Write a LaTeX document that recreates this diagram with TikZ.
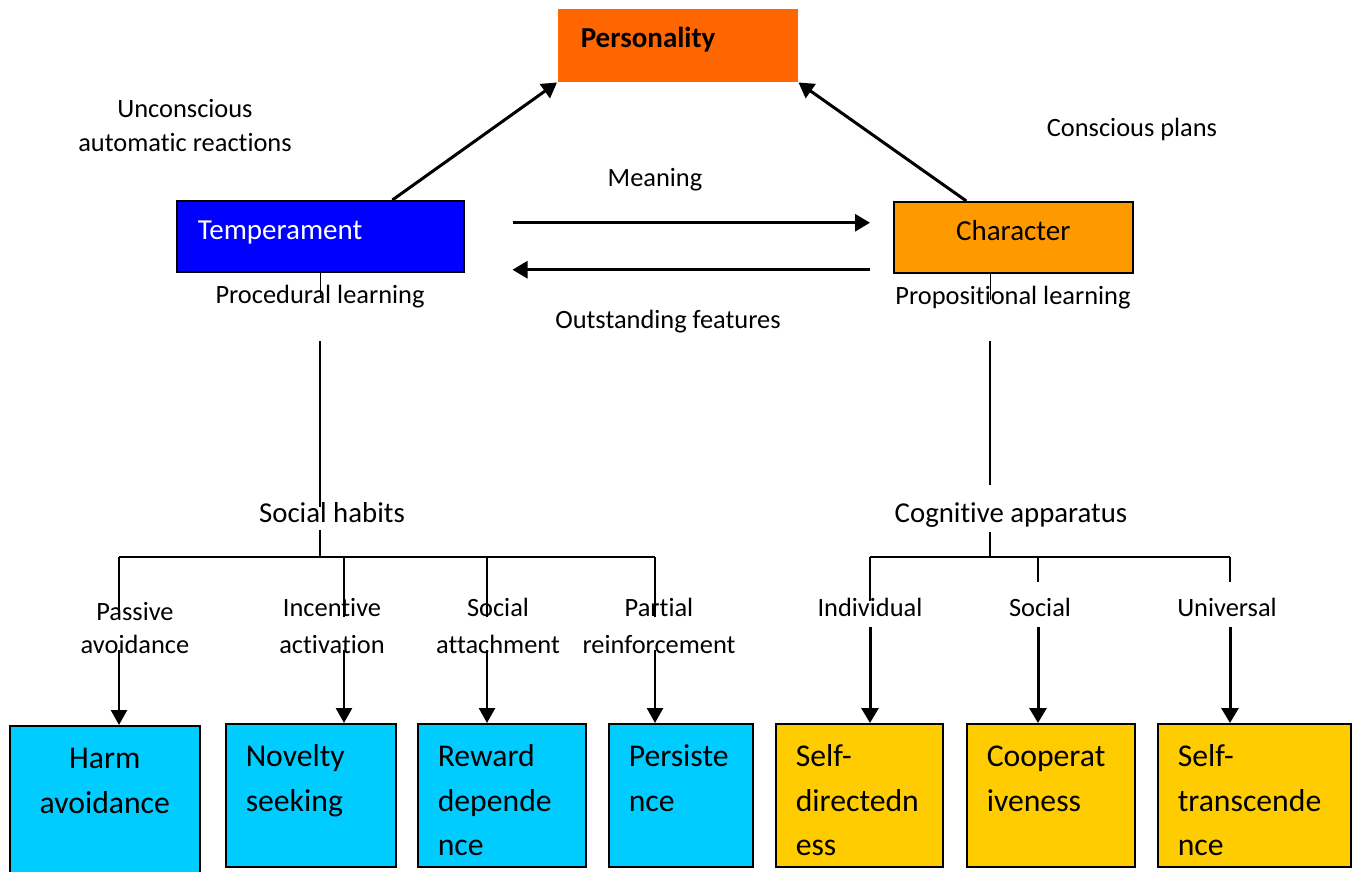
\documentclass[tikz,border=0pt]{standalone}
\usepackage{fontspec}
\setmainfont[Ligatures=NoCommon]{Carlito}
\usetikzlibrary{arrows.meta,calc}
\definecolor{persOrange}{HTML}{FF6600}
\definecolor{tempBlue}{HTML}{0000FF}
\definecolor{charOrange}{HTML}{FF9900}
\definecolor{traitCyan}{HTML}{00CCFF}
\definecolor{traitGold}{HTML}{FFCC00}
\newcommand{\lblfont}{\fontsize{26.4}{35}\selectfont}
\newcommand{\midfont}{\fontsize{28.8}{35}\selectfont}
\newcommand{\boxfont}{\fontsize{29}{35}\selectfont}
\newcommand{\traitfont}{\fontsize{31.7}{44.5}\selectfont}

\begin{document}
\begin{tikzpicture}[x=1pt, y=-1pt,
      every node/.style={font=\lblfont, inner sep=0pt},
      mainbox/.style={draw=black, line width=1.5pt, anchor=north west, minimum height=71pt, text height=21pt, text depth=14pt, font=\boxfont},
      trait/.style={draw=black, line width=1.5pt, anchor=north west, inner xsep=20pt, inner ysep=12pt, align=left, text height=31pt, text depth=88pt, font=\traitfont},
      link/.style={line width=1.5pt},
      bigarrow/.style={line width=3pt, -{Triangle[length=15pt,width=17pt]}},
      droparrow/.style={line width=2.5pt, -{Triangle[length=15pt,width=16pt]}}]
      \useasboundingbox (0,0) rectangle (1355,872);

      % Top triangle
      \node[mainbox, draw=none, fill=persOrange, minimum height=73pt, text height=20pt, text depth=15pt, inner xsep=23pt, text width=194pt, align=left, font=\boxfont\bfseries] (pers) at (557,8) {Personality};
      \node[mainbox, fill=tempBlue, text=white, inner xsep=21pt, text width=245pt, align=left] (temp) at (176,200) {Temperament};
      \node[mainbox, fill=charOrange, minimum width=239pt] (char) at (893,201) {Character};

      \draw[bigarrow] ($(temp.north west)!0.75!(temp.north east)$) -- (pers.south west);
      \draw[bigarrow] ($(char.north west)!0.305!(char.north east)$) -- (pers.south east);
      \draw[bigarrow] ([xshift=48pt,yshift=13.5pt]temp.east) -- ([xshift=-23pt,yshift=14.5pt]char.west);
      \draw[bigarrow] ([xshift=-23pt,yshift=-32.5pt]char.west) -- ([xshift=48pt,yshift=-33.5pt]temp.east);

      % two-line labels sit on the baseline of their last line
      \node[anchor=base, align=center] (unconsc) at (185,152) {Unconscious\\[-1pt]automatic reactions};
      \node[anchor=base] (consc) at (1132,137) {Conscious plans};
      \node[anchor=base] (meaning) at (655,186) {Meaning};
      \node[anchor=base] (outst) at (668,328) {Outstanding features};
      \node[anchor=base] (proc) at (320,303) {Procedural learning};
      \node[anchor=base] (propo) at (1013,304) {Propositional learning};

      % Temperament branch
      \node[anchor=base, font=\midfont] (habits) at (332,522) {Social habits};
      \coordinate (habitsTop) at (320,341);
      \coordinate (habitsBus) at (320,557);
      \draw[link] (temp.south) -- ++(0,25);
      \draw[link] (habitsTop) -- ++(0,166);
      \draw[link] (habitsBus) -- ++(0,-27);
      \draw[link] (119,557) -- (655,557);

      \node[anchor=base, align=center] (passive) at (135,653) {Passive\\[-2pt]avoidance};
      \node[anchor=base, align=center] (incentive) at (332,653) {Incentive\\[2pt]activation};
      \node[anchor=base, align=center] (attach) at (498,653) {Social\\[2pt]attachment};
      \node[anchor=base, align=center] (partial) at (659,653) {Partial\\[2pt]reinforcement};

      \node[trait, fill=traitCyan, align=center, text width=150pt, text depth=100pt] (harm) at (9,725) {Harm\\avoidance};
      \node[trait, fill=traitCyan, text width=130pt] (novelty) at (225,723) {Novelty\\seeking};
      \node[trait, fill=traitCyan, text width=128pt] (reward) at (417,723) {Reward\\depende\\nce};
      \node[trait, fill=traitCyan, text width=104pt] (persist) at (608,723) {Persiste\\nce};

      \foreach \x/\b in {119/harm, 344/novelty, 487/reward, 655/persist} {
            \draw[link] (\x,557) -- (\x,617);
            \coordinate (d\b) at (\x,650);
            \draw[droparrow] (d\b) -- (d\b |- \b.north);
      }

      % Character branch
      \node[anchor=base, font=\midfont] (cogn) at (1011,522) {Cognitive apparatus};
      \coordinate (cognTop) at (990,341);
      \coordinate (cognBus) at (990,557);
      \draw[link] ($(char.south west)!0.406!(char.south east)$) -- ++(0,26);
      \draw[link] (cognTop) -- ++(0,144);
      \draw[link] (cognBus) -- ++(0,-25);
      \draw[link] (870,557) -- (1230,557);

      \node[anchor=base] (individual) at (870,616) {Individual};
      \node[anchor=base] (socialLbl) at (1040,616) {Social};
      \node[anchor=base] (universal) at (1227,616) {Universal};

      \node[trait, fill=traitGold, text width=127pt] (selfdir) at (775,723) {Self-\\directedn\\ess};
      \node[trait, fill=traitGold, text width=128pt] (coop) at (966,723) {Cooperat\\iveness};
      \node[trait, fill=traitGold, text width=153pt] (selftr) at (1157,723) {Self-\\transcende\\nce};

      \draw[link] (870,557) -- (870,601);
      \draw[link] (1038,557) -- (1038,582);
      \draw[link] (1230,557) -- (1230,582);
      \foreach \x/\b in {870/selfdir, 1038/coop, 1230/selftr} {
            \coordinate (d\b) at (\x,627);
            \draw[bigarrow] (d\b) -- (d\b |- \b.north);
      }
\end{tikzpicture}
\end{document}
